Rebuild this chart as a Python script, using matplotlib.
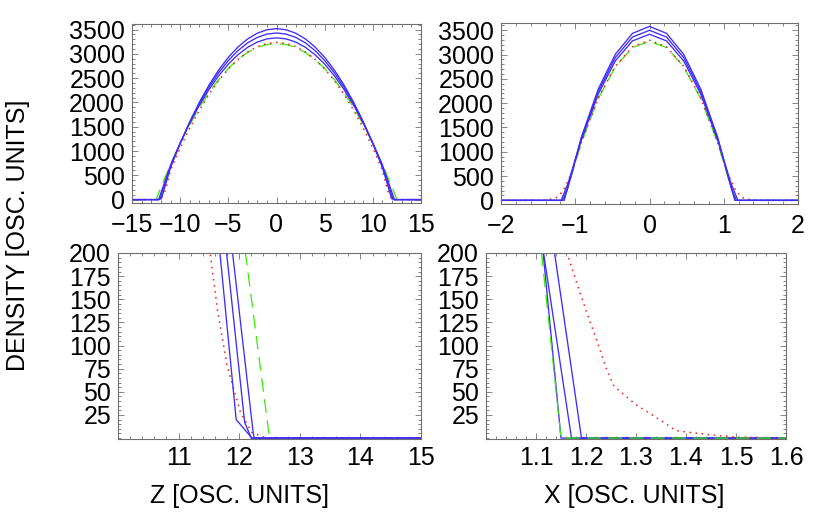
import numpy as np
import matplotlib
matplotlib.use("Agg")
import matplotlib.pyplot as plt
from matplotlib.ticker import MultipleLocator

plt.rcParams['font.family'] = ['Liberation Sans', 'DejaVu Sans']
plt.rcParams['font.size'] = 18

# axial profiles along z (half profile, z >= 0, mirrored below)
z_b1 = [0, 1, 2, 3, 4, 5, 6, 7, 8, 9, 10, 11, 11.95, 12.21, 15]
n_b1 = [3520, 3496, 3425, 3307, 3142, 2929, 2669, 2361, 2006, 1604, 1155, 658, 20, 0, 0]
z_b2 = [0, 1, 2, 3, 4, 5, 6, 7, 8, 9, 10, 11, 12.09, 12.2, 15]
n_b2 = [3430, 3407, 3339, 3226, 3067, 2863, 2614, 2319, 1979, 1593, 1163, 686, 17, 0, 0]
z_b3 = [0, 1, 2, 3, 4, 5, 6, 7, 8, 9, 10, 11, 12.23, 12.25, 15]
n_b3 = [3330, 3308, 3243, 3135, 2983, 2789, 2550, 2269, 1944, 1576, 1164, 709, 6, 0, 0]
z_red = [0, 1, 2, 3, 4, 5, 6, 7, 8, 9, 10, 11, 11.25, 11.52, 11.64, 11.8, 12.02, 12.21, 12.35, 12.45, 15]
n_red = [3235, 3213, 3148, 3039, 2887, 2692, 2453, 2170, 1844, 1475, 1062, 605, 400, 200, 139, 78, 28, 6, 2.5, 0, 0]
z_grn = [0, 1, 2, 3, 4, 5, 6, 7, 8, 9, 10, 11, 12, 12.5, 15]
n_grn = [3214, 3193, 3132, 3029, 2885, 2700, 2473, 2206, 1898, 1548, 1157, 725, 252, 0, 0]

# radial profiles along x (half profile, x >= 0)
x_b1 = [0, 0.23, 0.46, 0.69, 0.92, 1.15, 2]
m_b1 = [3580, 3436, 3007, 2291, 1289, 0, 0]
x_b2 = [0, 0.23, 0.46, 0.69, 0.92, 1.1, 1.171, 2]
m_b2 = [3500, 3360, 2940, 2240, 1260, 254, 0, 0]
x_b3 = [0, 0.23, 0.46, 0.69, 0.92, 1.1, 1.191, 2]
m_b3 = [3418, 3281, 2871, 2188, 1230, 338, 0, 0]
x_red = [0, 0.23, 0.46, 0.69, 0.92, 1.05, 1.162, 1.18, 1.2, 1.22, 1.24, 1.256, 1.3, 1.35, 1.38, 1.44, 1.5, 1.6, 2]
m_red = [3295, 3160, 2760, 2110, 1180, 560, 200, 170, 138, 108, 76, 56, 36, 19, 8, 4, 1, 0, 0]
x_grn = [0, 0.23, 0.46, 0.69, 0.92, 1.15, 2]
m_grn = [3274, 3143, 2750, 2095, 1180, 0, 0]

top_z_ticks = [-15, -10, -5, 0, 5, 10, 15]
top_x_ticks = [-2, -1, 0, 1, 2]
top_y_ticks = [0, 500, 1000, 1500, 2000, 2500, 3000, 3500]
bot_z_ticks = [11, 12, 13, 14, 15]
bot_x_ticks = [1.1, 1.2, 1.3, 1.4, 1.5, 1.6]
bot_y_ticks = [25, 50, 75, 100, 125, 150, 175, 200]

BLUE = '#3f2cf8'
RED = '#ff1a1a'
GREEN = '#33ee00'


def mirror(x, y):
    x = np.asarray(x, float)
    y = np.asarray(y, float)
    return np.concatenate([-x[::-1], x[1:]]), np.concatenate([y[::-1], y[1:]])


def draw(ax, curves, green_on_top=False):
    blues, red, grn = curves
    if green_on_top:
        order = ['b', 'r', 'g']
    else:
        order = ['g', 'r', 'b']
    for k in order:
        if k == 'b':
            for xx, yy in blues:
                ax.plot(*mirror(xx, yy), color=BLUE, lw=0.95)
        elif k == 'r':
            ax.plot(*mirror(*red), color=RED, lw=1.1, ls=(0, (1, 3)))
        else:
            ax.plot(*mirror(*grn), color=GREEN, lw=0.9, ls=(0, (11, 6)))


def style(ax, xminor, yminor):
    for s in ax.spines.values():
        s.set_color('#707070')
        s.set_linewidth(0.8)
    ax.xaxis.set_minor_locator(MultipleLocator(xminor))
    ax.yaxis.set_minor_locator(MultipleLocator(yminor))
    ax.tick_params(which='both', direction='in', top=True, right=True,
                   color='#707070', width=0.6)
    ax.tick_params(which='major', length=4, pad=5)
    ax.tick_params(which='minor', length=2)


z_curves = ([(z_b1, n_b1), (z_b2, n_b2), (z_b3, n_b3)], (z_red, n_red), (z_grn, n_grn))
x_curves = ([(x_b1, m_b1), (x_b2, m_b2), (x_b3, m_b3)], (x_red, m_red), (x_grn, m_grn))

fig = plt.figure(figsize=(8.34, 5.15), dpi=100)
W, H = 834, 515


def axes_px(x0, y0, x1, y1):
    return fig.add_axes([x0 / W, 1 - y1 / H, (x1 - x0) / W, (y1 - y0) / H])


ax1 = axes_px(132, 24, 421, 203)
draw(ax1, z_curves)
ax1.set_xlim(-15, 15)
ax1.set_ylim(-70, 3615)
ax1.set_xticks(top_z_ticks)
ax1.set_yticks(top_y_ticks)
style(ax1, 1, 100)
ax1.tick_params(axis='x', which='major', pad=7)

ax2 = axes_px(501, 23, 798, 204)
draw(ax2, x_curves)
ax2.set_xlim(-2, 2)
ax2.set_ylim(-75, 3650)
ax2.set_xticks(top_x_ticks)
ax2.set_yticks(top_y_ticks)
style(ax2, 0.2, 100)
ax2.tick_params(axis='x', which='major', pad=7)

ax3 = axes_px(118, 253, 421, 439)
draw(ax3, z_curves)
ax3.set_xlim(10, 15)
ax3.set_ylim(-1, 200)
ax3.set_xticks(bot_z_ticks)
ax3.set_yticks(bot_y_ticks)
style(ax3, 0.2, 5)

ax4 = axes_px(486, 253, 786, 439)
draw(ax4, x_curves, green_on_top=True)
ax4.set_xlim(1.0, 1.6)
ax4.set_ylim(-1, 200)
ax4.set_xticks(bot_x_ticks)
ax4.set_xticklabels([str(t) for t in bot_x_ticks])
ax4.set_yticks(bot_y_ticks)
style(ax4, 0.02, 5)

fig.text(18 / W, 1 - 235 / H, 'DENSITY [OSC. UNITS]', rotation=90,
         ha='center', va='center')
fig.text(240 / W, 1 - 496 / H, 'Z [OSC. UNITS]', ha='center', va='center')
fig.text(634 / W, 1 - 496 / H, 'X [OSC. UNITS]', ha='center', va='center')

fig.savefig('out.png', dpi=100)
